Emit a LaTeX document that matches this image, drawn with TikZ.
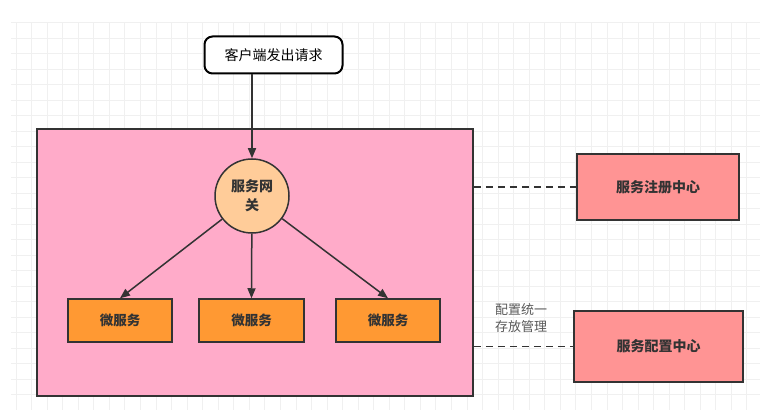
\documentclass[tikz,border=0pt]{standalone}
\usepackage{fontspec}
\setmainfont{Noto Sans CJK SC}
\usetikzlibrary{arrows.meta}
\usepackage{xcolor}
\definecolor{edge}{HTML}{333333}
\definecolor{sysfill}{HTML}{FFABC9}
\definecolor{gwfill}{HTML}{FFCC99}
\definecolor{msfill}{HTML}{FF9933}
\definecolor{centerfill}{HTML}{FF9494}
\definecolor{gridminor}{HTML}{F0F0F0}
\definecolor{gridmajor}{HTML}{E4E4E4}

\begin{document}
\begin{tikzpicture}[x=1pt, y=-1pt,
    client/.style={draw=black, line width=2pt, rounded corners=8pt, fill=white, minimum width=138pt, minimum height=37pt, inner sep=0pt, font=\fontsize{14}{16}\selectfont},
    system/.style={draw=edge, line width=1.5pt, rectangle, fill=sysfill, minimum width=436pt, minimum height=267pt, inner sep=0pt},
    gateway/.style={draw=edge, line width=1.5pt, circle, fill=gwfill, minimum size=74pt, inner sep=0pt, align=center, text=edge, font=\fontsize{14}{19}\selectfont\bfseries},
    service/.style={draw=edge, line width=1.5pt, rectangle, fill=msfill, minimum width=104pt, minimum height=43pt, inner sep=0pt, text=edge, font=\fontsize{13.5}{16}\selectfont\bfseries},
    centerbox/.style={draw=edge, line width=1.5pt, rectangle, fill=centerfill, inner sep=0pt, text=edge, font=\fontsize{14}{16}\selectfont\bfseries},
    note/.style={align=left, inner sep=0pt, text=black!65, font=\fontsize{13}{17}\selectfont},
    flow/.style={draw=edge, line width=1.5pt, -{Triangle[length=10pt, width=8pt]}},
    link/.style={draw=edge, line width=1.5pt, dash pattern=on 7pt off 5pt},
]
\useasboundingbox (0,0) rectangle (765,414);

% --- background grid ---
\foreach \gx [count=\i] in {16,31.55,...,760}
    \draw[line width=0.8pt, color=gridminor] (\gx,22) -- (\gx,410);
\foreach \gy in {22.7,38.2,...,410}
    \draw[line width=0.8pt, color=gridminor] (11,\gy) -- (760,\gy);

% --- nodes ---
\node[client] (client) at (273.5,55) {客户端发出请求};
\node[system] (sys) at (255,262.5) {};
\node[gateway] (gw) at (252,196) {服务网\\关};
\node[service] (ms1) at (120,320.5) {微服务};
\node[service, minimum width=105pt] (ms2) at (251.5,320.5) {微服务};
\node[service] (ms3) at (388,320.5) {微服务};
\node[centerbox, minimum width=162pt, minimum height=66pt] (registry) at (658,187) {服务注册中心};
\node[centerbox, minimum width=169pt, minimum height=71pt] (config) at (658.5,346.5) {服务配置中心};
\node[note, anchor=north west] (cfgnote) at (495,303) {配置统一\\存放管理};

% --- edges ---
\draw[flow] (gw |- client.south) -- (gw);
\draw[flow] (gw) -- (ms1.north);
\draw[flow] (gw) -- (ms2.north);
\draw[flow] (gw) -- (ms3.north);

\draw[link] (sys.east |- registry) -- (registry);
\draw[link] (sys.east |- config) -- (config);
\end{tikzpicture}
\end{document}
